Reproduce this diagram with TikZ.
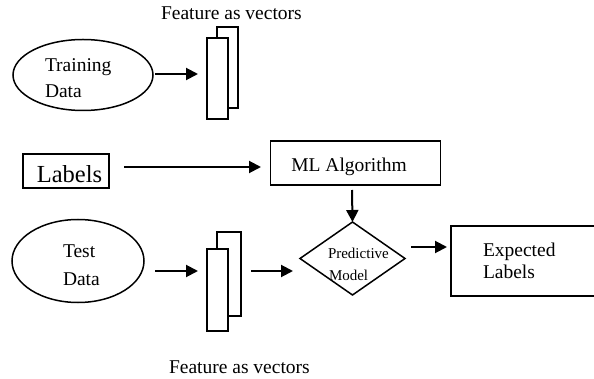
\documentclass[tikz,border=0pt]{standalone}
\usepackage{fontspec}
\setmainfont{Liberation Serif}
\usetikzlibrary{shapes.geometric,arrows.meta}

\tikzset{
  every node/.style={inner sep=0pt, outer sep=0pt},
  txt/.style={font=\fontsize{19.5}{27}\selectfont, anchor=base west},
  smalltxt/.style={font=\fontsize{15}{20}\selectfont, anchor=base west},
  bigtxt/.style={font=\fontsize{24.5}{30}\selectfont, anchor=base},
  oval/.style={draw, ellipse, line width=1.5pt},
  box/.style={draw, rectangle, line width=1.5pt},
  vecbar/.style={draw, rectangle, line width=1.5pt, fill=white},
  arr/.style={line width=2pt, -{Triangle[length=12pt,width=12pt]}},
}

\begin{document}
\begin{tikzpicture}[x=1pt,y=-1pt]
\clip (0,0) rectangle (594,379);
\useasboundingbox (0,0) rectangle (594,379);

% ---- training branch ----
\node[oval, minimum width=140, minimum height=71] (train) at (83,75) {};
\node[txt] (train1) at (45,72) {Training};
\node[txt] (train2) at (45,98) {Data};

\node[txt] (feattop) at (161,20) {Feature as vectors};
\node[vecbar, minimum width=21, minimum height=81] (vt2) at (227.5,67.5) {};
\node[vecbar, minimum width=21, minimum height=81] (vt1) at (217.5,78.5) {};
\coordinate (trainout) at (155,74);
\coordinate (vt1in) at (198,74);
\draw[arr] (trainout) -- (vt1in);

% ---- labels and algorithm ----
\node[box, minimum width=86, minimum height=34] (labels) at (66,171) {};
\node[bigtxt] (labelstxt) at (69.5,183) {Labels};

\node[box, minimum width=170, minimum height=44] (ml) at (355.5,163) {};
\node[txt, anchor=base] (mltxt) at (349,172) {ML Algorithm};
\coordinate (labout) at (124,167);
\coordinate (mlin) at (261,167);
\draw[arr] (labout) -- (mlin);

% ---- predictive model ----
\node[draw, diamond, line width=1.5pt, minimum width=105, minimum height=73] (pm) at (352.5,258.5) {};
\node[smalltxt] (pm1) at (328,259) {Predictive};
\node[smalltxt] (pm2) at (329,280) {Model};
\coordinate (mlout) at (352,190);
\draw[arr] (mlout) -- (pm.north);

% ---- expected labels ----
\node[box, minimum width=160, minimum height=70] (exp) at (531,261) {};
\node[txt] (exp1) at (483,257) {Expected};
\node[txt] (exp2) at (483,279) {Labels};
\coordinate (pmout) at (411,247);
\coordinate (expin) at (447,247);
\draw[arr] (pmout) -- (expin);

% ---- test branch ----
\node[oval, minimum width=132, minimum height=83] (test) at (78,261) {};
\node[txt] (test1) at (63,258) {Test};
\node[txt] (test2) at (63,285) {Data};

\node[vecbar, minimum width=24, minimum height=84] (vb2) at (229,274) {};
\node[vecbar, minimum width=21, minimum height=82] (vb1) at (217.5,290) {};
\node[txt] (featbot) at (169,373) {Feature as vectors};
\coordinate (testout) at (155,271);
\coordinate (vb1in) at (198,271);
\draw[arr] (testout) -- (vb1in);
\coordinate (vbout) at (251,271);
\coordinate (pmin) at (293,271);
\draw[arr] (vbout) -- (pmin);
\end{tikzpicture}
\end{document}
